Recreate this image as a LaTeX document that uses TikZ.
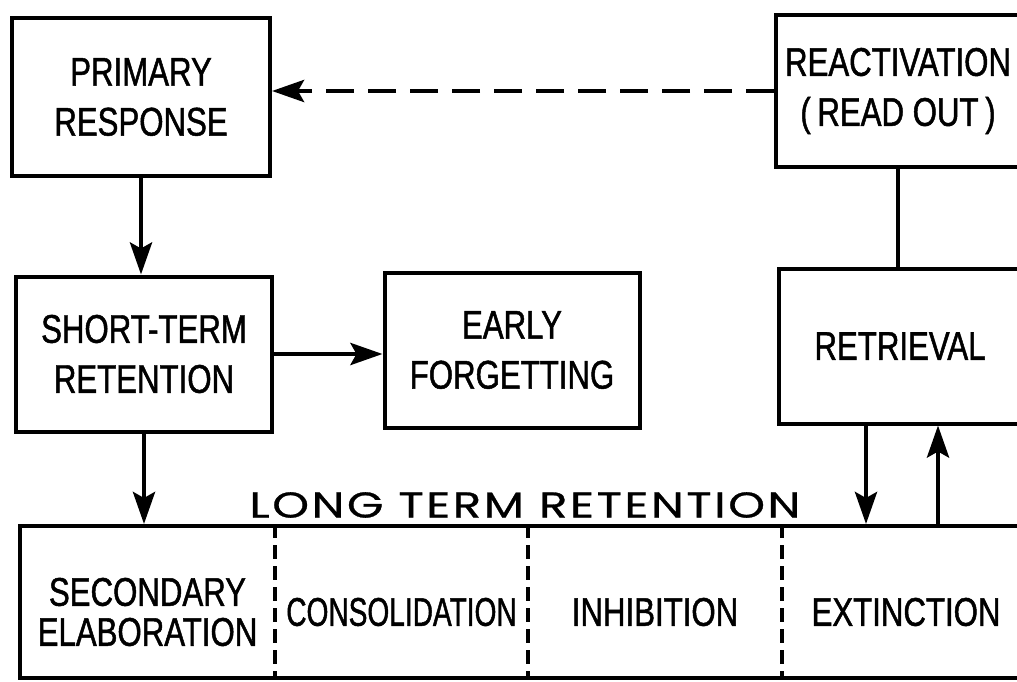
\documentclass[tikz,border=0pt]{standalone}
\usepackage{fontspec}
\usepackage{graphicx}
\setmainfont{Liberation Sans}[FakeStretch=0.78,FakeBold=1.2]
\newfontfamily\lettering{Poppins}[LetterSpace=7,FakeStretch=1.3,FakeBold=0.8]
\usetikzlibrary{arrows.meta,positioning}

\tikzset{box/.style={draw, line width=4pt, align=center, inner sep=0pt,
    font=\fontsize{40}{50}\selectfont}}
\tikzset{cell/.style={align=center, inner sep=0pt, minimum height=120pt,
    font=\fontsize{40}{40}\selectfont}}
\tikzset{arr/.style={-{Stealth[length=32pt,width=22pt,inset=6pt]}, line width=4.5pt}}
\tikzset{link/.style={line width=4.5pt}}
\tikzset{readout/.style={arr, dash pattern=on 28pt off 14pt}}
\tikzset{divider/.style={line width=4pt, dash pattern=on 14pt off 7pt}}

\begin{document}
\begin{tikzpicture}[x=1pt,y=-1pt]
	\useasboundingbox (0,0) rectangle (1017,682);
	\clip (0,0) rectangle (1017,682);
	
	\node[box, minimum width=258pt, minimum height=157pt] (primary) at (141,97) {PRIMARY\\RESPONSE};
	\node[box, minimum width=256pt, minimum height=155pt] (short) at (144,354) {SHORT-TERM\\RETENTION};
	\node[box, minimum width=255pt, minimum height=155pt] (early) at (512,350) {EARLY\\FORGETTING};
	\node[box, minimum width=244pt, minimum height=152pt] (react) at (898,91) {REACTIVATION\\(\,READ OUT\,)};
	\node[box, minimum width=242pt, minimum height=155pt] (retrieval) at (900,346) {RETRIEVAL};
	
	% long term store and its four parts
	\node[draw, line width=4pt, minimum width=1020pt, minimum height=152pt] (ltr) at (530,602) {};
	\node[cell, minimum width=255pt] (second) at (147.5,612) {SECONDARY\\ELABORATION};
	\node[cell, minimum width=253pt] (consol) at (401.5,612) {\scalebox{0.9}[1]{CONSOLIDATION}};
	\node[cell, minimum width=254pt] (inhib) at (655,612) {INHIBITION};
	\node[cell, minimum width=248pt] (extinct) at (906,612) {EXTINCTION};
	\node[font=\lettering\fontsize{36}{36}\selectfont] (ltrlabel) at (525,505) {LONG TERM RETENTION};
	
	\foreach \c in {consol,inhib,extinct}
		\draw[divider] (\c.west |- ltr.north) -- (\c.west |- ltr.south);
	
	\draw[arr] (primary.south) -- (primary.south |- short.north);
	\draw[arr] (short.east) -- (short.east -| early.west);
	\draw[arr] (short.south) -- (short.south |- ltr.north);
	\draw[readout] (react.west) -- (react.west -| primary.east);
	\draw[link] (react.south) -- (react.south |- retrieval.north);
	\draw[arr] ([xshift=-34pt]retrieval.south) -- ([xshift=-34pt]retrieval.south |- ltr.north);
	\draw[arr] ([xshift=38pt]retrieval.south |- ltr.north) -- ([xshift=38pt]retrieval.south);
\end{tikzpicture}
\end{document}
